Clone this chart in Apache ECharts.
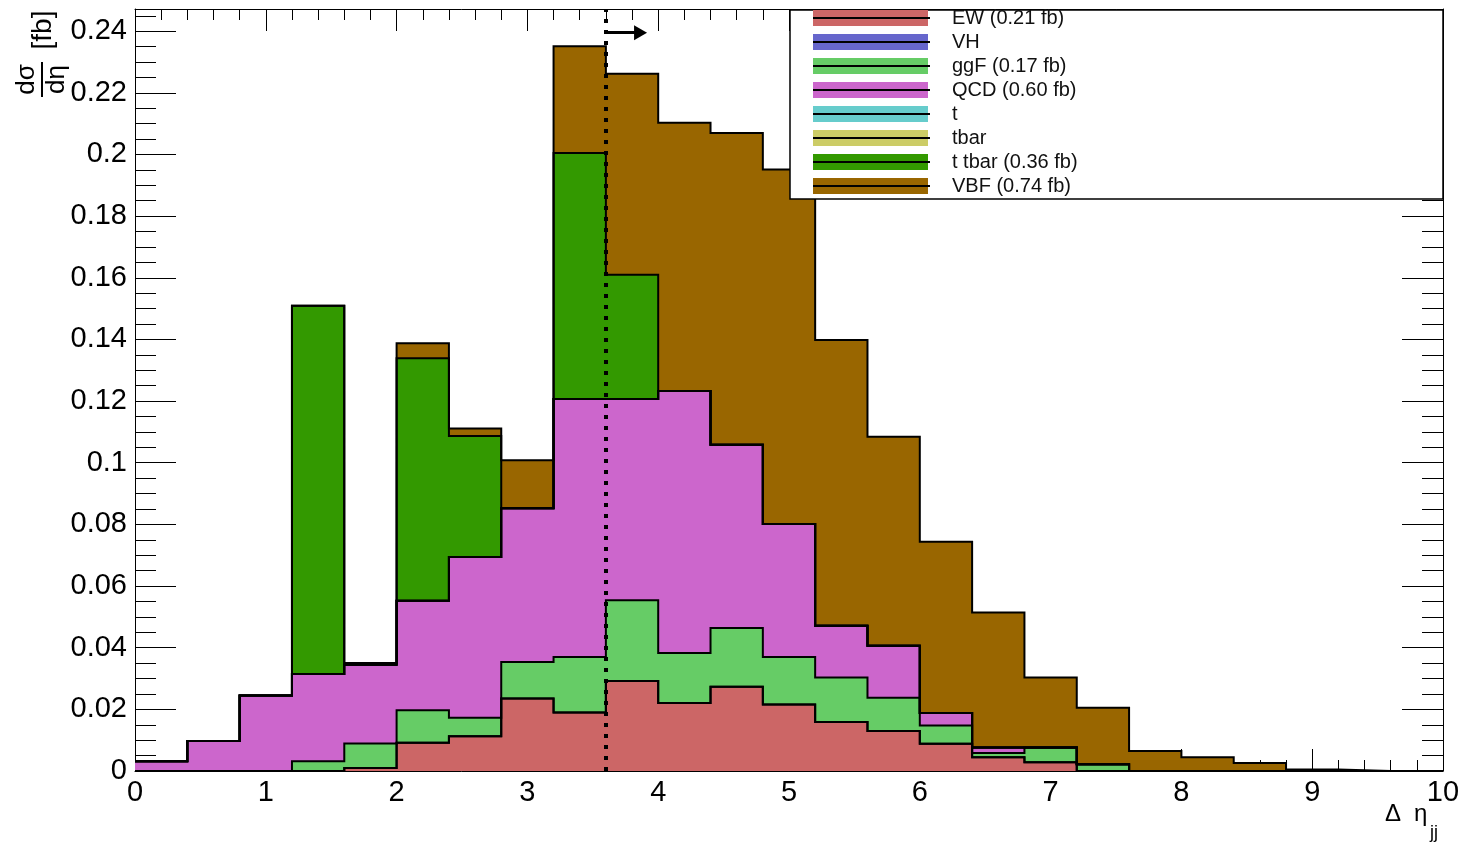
<!DOCTYPE html>
<html>
<head>
<meta charset="utf-8">
<title>Delta eta jj</title>
<script src="https://cdn.jsdelivr.net/npm/echarts@6/dist/echarts.min.js"></script>
<style>
  html, body { margin: 0; padding: 0; background: #fff; }
  #chart { width: 1462px; height: 846px; }
</style>
</head>
<body>
<div id="chart"></div>
<script>
// Bin edges of the Δη_jj histogram (25 bins of width 0.4)
const binEdges = [0, 0.4, 0.8, 1.2, 1.6, 2.0, 2.4, 2.8, 3.2, 3.6, 4.0, 4.4, 4.8,
                  5.2, 5.6, 6.0, 6.4, 6.8, 7.2, 7.6, 8.0, 8.4, 8.8, 9.2, 9.6, 10];

// Per-process bin contents dσ/dη [fb], stacked bottom (EW) to top (VBF)
const ewValues    = [0, 0, 0, 0, 0.0010, 0.0092, 0.0113, 0.0235, 0.0190, 0.0292, 0.0221, 0.0273, 0.0216,
                     0.0159, 0.0130, 0.0088, 0.0045, 0.0028, 0, 0, 0, 0, 0, 0, 0];
const vhValues    = [0, 0, 0, 0, 0, 0, 0, 0, 0, 0, 0, 0, 0, 0, 0, 0, 0, 0, 0, 0, 0, 0, 0, 0, 0];
const ggfValues   = [0, 0, 0, 0.0032, 0.0079, 0.0105, 0.0060, 0.0119, 0.0180, 0.0262, 0.0162, 0.0191, 0.0154,
                     0.0144, 0.0108, 0.0060, 0.0013, 0.0048, 0.0022, 0, 0, 0, 0, 0, 0];
const qcdValues   = [0.0032, 0.0097, 0.0245, 0.0283, 0.0256, 0.0355, 0.0521, 0.0498, 0.0837, 0.0653, 0.0850, 0.0594, 0.0431,
                     0.0168, 0.0168, 0.0040, 0.0018, 0, 0, 0, 0, 0, 0, 0, 0];
const tValues     = [0, 0, 0, 0, 0, 0, 0, 0, 0, 0, 0, 0, 0, 0, 0, 0, 0, 0, 0, 0, 0, 0, 0, 0, 0];
const tbarValues  = [0, 0, 0, 0, 0, 0, 0, 0, 0, 0, 0, 0, 0, 0, 0, 0, 0, 0, 0, 0, 0, 0, 0, 0, 0];
const ttbarValues = [0, 0, 0, 0.1194, 0.0003, 0.0787, 0.0393, 0, 0.0798, 0.0403, 0, 0, 0,
                     0, 0, 0, 0, 0, 0, 0, 0, 0, 0, 0, 0];
const vbfValues   = [0, 0, 0, 0, 0.0002, 0.0049, 0.0024, 0.0156, 0.0346, 0.0652, 0.0870, 0.1012, 0.1150,
                     0.0927, 0.0678, 0.0556, 0.0438, 0.0227, 0.0183, 0.0065, 0.0045, 0.0026, 0.0005, 0, 0];

const processNames  = ['EW', 'VH', 'ggF', 'QCD', 't', 'tbar', 't tbar', 'VBF'];
const processValues = [ewValues, vhValues, ggfValues, qcdValues, tValues, tbarValues, ttbarValues, vbfValues];
const processColors = ['#cc6666', '#6666cc', '#66cc66', '#cc66cc', '#66cccc', '#cccc66', '#339900', '#996600'];

// Selection cut on Δη_jj and the arrow showing the kept side
const cutValue = 3.6;
const arrowY = 0.2395;
const arrowEnd = 3.865;

const yMax = 0.2472;
const FONT = '"Liberation Sans", Arial, Helvetica, sans-serif';

// Cumulative stack tops (each histogram drawn from zero, largest first)
const nBins = binEdges.length - 1;
const stackTops = [];
let running = new Array(nBins).fill(0);
processValues.forEach(vals => {
  running = running.map((r, i) => r + vals[i]);
  stackTops.push(running.slice());
});

const series = [];
for (let k = processNames.length - 1; k >= 0; k--) {
  const tops = stackTops[k];
  const s = {
    type: 'line',
    name: processNames[k],
    step: 'end',
    symbol: 'none',
    silent: true,
    animation: false,
    z: 2,
    data: binEdges.map((x, i) => [x, tops[Math.min(i, nBins - 1)]]),
    lineStyle: { color: '#000', width: 2, join: 'miter' },
    areaStyle: { color: processColors[k], opacity: 1 },
    itemStyle: { color: processColors[k] }
  };
  if (k === 0) {
    s.markLine = {
      silent: true,
      animation: false,
      symbol: 'none',
      label: { show: false },
      emphasis: { disabled: true },
      data: [
        { xAxis: cutValue, lineStyle: { type: [4, 7], width: 4, color: '#000', cap: 'butt' } },
        [
          { coord: [cutValue, arrowY], symbol: 'none', lineStyle: { type: 'solid', width: 3, color: '#000' } },
          { coord: [arrowEnd, arrowY], symbol: 'triangle', symbolSize: [15, 13] }
        ]
      ]
    };
  }
  series.push(s);
}

// Legend entries: fill swatch with the outline colour through it
const legendLeft = 790, legendTop = 10, legendRight = 1443, legendBottom = 199;
const rowStart = 18, rowStep = 24;
const legendItems = [];
processNames.forEach((name, i) => {
  const total = processValues[i].reduce((a, b) => a + b, 0);
  const label = total > 0 ? name + ' (' + total.toFixed(2) + ' fb)' : name;
  const cy = rowStart + rowStep * i;
  legendItems.push(
    { type: 'rect', z: 101, shape: { x: 813, y: cy - 8, width: 115, height: 16 },
      style: { fill: processColors[i] } },
    { type: 'line', z: 102, shape: { x1: 813, y1: cy, x2: 930, y2: cy },
      style: { stroke: '#000', lineWidth: 2 } },
    { type: 'text', z: 102, x: 952, y: cy,
      style: { text: label, fill: '#111', fontSize: 20, fontFamily: FONT,
               align: 'left', verticalAlign: 'middle' } }
  );
});

const xAxisCommon = {
  type: 'value', min: 0, max: 10, interval: 1,
  axisLine: { show: true, onZero: false, lineStyle: { color: '#000', width: 1 } },
  axisTick: { show: true, inside: true, length: 22, lineStyle: { color: '#000', width: 1 } },
  minorTick: { show: true, splitNumber: 5, length: 11, lineStyle: { color: '#000', width: 1 } },
  splitLine: { show: false },
  minorSplitLine: { show: false }
};
const yAxisCommon = {
  type: 'value', min: 0, max: yMax, interval: 0.02,
  axisLine: { show: true, onZero: false, lineStyle: { color: '#000', width: 1 } },
  axisTick: { show: true, inside: true, length: 41, lineStyle: { color: '#000', width: 1 } },
  minorTick: { show: true, splitNumber: 4, length: 21, lineStyle: { color: '#000', width: 1 } },
  splitLine: { show: false },
  minorSplitLine: { show: false }
};

const chart = echarts.init(document.getElementById('chart'), null, { renderer: 'canvas' });
chart.setOption({
  animation: false,
  backgroundColor: '#fff',
  grid: { left: 135, right: 19, top: 9, bottom: 75, containLabel: false, outerBoundsMode: 'none' },
  xAxis: [
    Object.assign({}, xAxisCommon, {
      position: 'bottom',
      axisLabel: { show: true, color: '#000', fontSize: 29, fontFamily: FONT, margin: 7 }
    }),
    Object.assign({}, xAxisCommon, {
      position: 'top',
      axisLabel: { show: false }
    })
  ],
  yAxis: [
    Object.assign({}, yAxisCommon, {
      position: 'left',
      axisLabel: {
        show: true, color: '#000', fontSize: 29, fontFamily: FONT, margin: 8,
        showMaxLabel: false,
        formatter: v => {
          const n = v / 0.02;
          return Math.abs(n - Math.round(n)) < 1e-6 ? String(+v.toFixed(2)) : '';
        }
      }
    }),
    Object.assign({}, yAxisCommon, {
      position: 'right',
      axisLabel: { show: false }
    })
  ],
  series: series,
  graphic: [
    // legend frame and entries
    { type: 'rect', z: 100,
      shape: { x: legendLeft, y: legendTop, width: legendRight - legendLeft, height: legendBottom - legendTop },
      style: { fill: '#fff', stroke: '#000', lineWidth: 1.5 } },
    ...legendItems,
    // y-axis title: dσ/dη [fb], rotated
    { type: 'group', x: 42, y: 79.5, rotation: Math.PI / 2, z: 100, children: [
      { type: 'text', style: { text: 'dσ', x: 0, y: -2, fill: '#000', fontSize: 26, fontFamily: FONT,
                               align: 'center', verticalAlign: 'bottom' } },
      { type: 'line', shape: { x1: -17.5, y1: 0, x2: 17.5, y2: 0 }, style: { stroke: '#000', lineWidth: 2 } },
      { type: 'text', style: { text: 'dη', x: 0, y: 2, fill: '#000', fontSize: 26, fontFamily: FONT,
                               align: 'center', verticalAlign: 'top' } },
      { type: 'text', style: { text: '[fb]', x: 49.5, y: 1, fill: '#000', fontSize: 28, fontFamily: FONT,
                               align: 'center', verticalAlign: 'middle' } }
    ] },
    // x-axis title: Δ η_jj
    { type: 'text', z: 100, x: 1385, y: 814,
      style: { text: 'Δ', fill: '#000', fontSize: 24, fontFamily: FONT, align: 'left', verticalAlign: 'middle' } },
    { type: 'text', z: 100, x: 1414, y: 814,
      style: { text: 'η', fill: '#000', fontSize: 24, fontFamily: FONT, align: 'left', verticalAlign: 'middle' } },
    { type: 'text', z: 100, x: 1430, y: 833,
      style: { text: 'jj', fill: '#000', fontSize: 18, fontFamily: FONT, align: 'left', verticalAlign: 'middle' } }
  ]
});
</script>
</body>
</html>
